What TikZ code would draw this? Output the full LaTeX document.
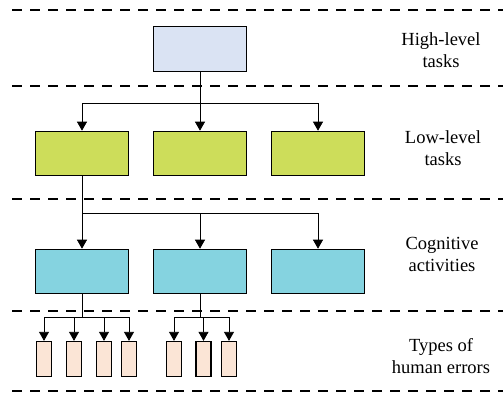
\documentclass[tikz,border=0pt]{standalone}
\usepackage{fontspec}
\setmainfont{Liberation Serif}
\usetikzlibrary{positioning,arrows.meta}
\definecolor{highblue}{RGB}{218,227,243}
\definecolor{lowgreen}{RGB}{205,221,90}
\definecolor{cogcyan}{RGB}{133,211,224}
\definecolor{errpeach}{RGB}{251,229,214}
\tikzset {
    style A/.style={
        fill=highblue,
        draw=black,
        line width=1.6pt,
        rectangle, % Set the shape as a rectangle
        minimum width=93pt,
        minimum height=45pt,
    },
    style B/.style={
        style A,
        fill=lowgreen,
        minimum height=44pt,
    },
    style C/.style={
        style A,
        fill=cogcyan,
        minimum height=44pt,
    },
    style D/.style={
        fill=errpeach,
        draw=black,
        line width=1.3pt,
        rectangle, % Set the shape as a rectangle
        minimum width=15pt,
        minimum height=35pt,
        inner sep=0pt,
    },
    style L/.style={
        align=center,
        font=\fontsize{18.5}{22}\selectfont,
    },
    link/.style={draw=black, line width=0.8pt, -{Triangle[width=10pt,length=9pt]}},
}
\begin{document}
\begin{tikzpicture}[x=1pt,y=-1pt]
\useasboundingbox (0,0) rectangle (503,395);

% layer separators
\foreach \ly in {10,86,199,311,391}
  \draw[line width=2.8pt, dash pattern=on 10pt off 8pt] (12,\ly) -- (503,\ly);

% high-level tasks
\node [style A] (high) at (200,49) {};

% low-level tasks
\node [style B] (low1) at (82,153.5) {};
\node [style B] (low2) at (200,153.5) {};
\node [style B] (low3) at (318,153.5) {};

% cognitive activities
\node [style C] (cog1) at (82,271.5) {};
\node [style C] (cog2) at (200,271.5) {};
\node [style C] (cog3) at (318,271.5) {};

% types of human errors
\node [style D] (err1) at (44,359) {};
\node [style D] (err2) at (74,359) {};
\node [style D] (err3) at (104,359) {};
\node [style D] (err4) at (129,359) {};
\node [style D] (err5) at (174,359) {};
\node [style D] (err6) at (203.5,359) {};
\node [style D] (err7) at (229,359) {};

% branch points
\coordinate (b1) at (200,103);
\coordinate (b2) at (82,213);
\coordinate (b3) at (82,317);
\coordinate (b4) at (200,317);

\draw [link] (high.south) -- (b1) -| (low1.north);
\draw [link] (high.south) -- (low2.north);
\draw [link] (high.south) -- (b1) -| (low3.north);

\draw [link] (low1.south) -- (cog1.north);
\draw [link] (low1.south) -- (b2) -| (cog2.north);
\draw [link] (low1.south) -- (b2) -| (cog3.north);

\foreach \e in {err1,err2,err3,err4}
  \draw [link] (cog1.south) -- (b3) -| (\e.north);
\foreach \e in {err5,err6,err7}
  \draw [link] (cog2.south) -- (b4) -| (\e.north);

% layer labels
\node [style L] (lab1) at (441,50) {High-level\\tasks};
\node [style L] (lab2) at (443,148) {Low-level\\tasks};
\node [style L] (lab3) at (442,254) {Cognitive\\activities};
\node [style L] (lab4) at (441,356) {Types of\\human errors};

\end{tikzpicture}
\end{document}
